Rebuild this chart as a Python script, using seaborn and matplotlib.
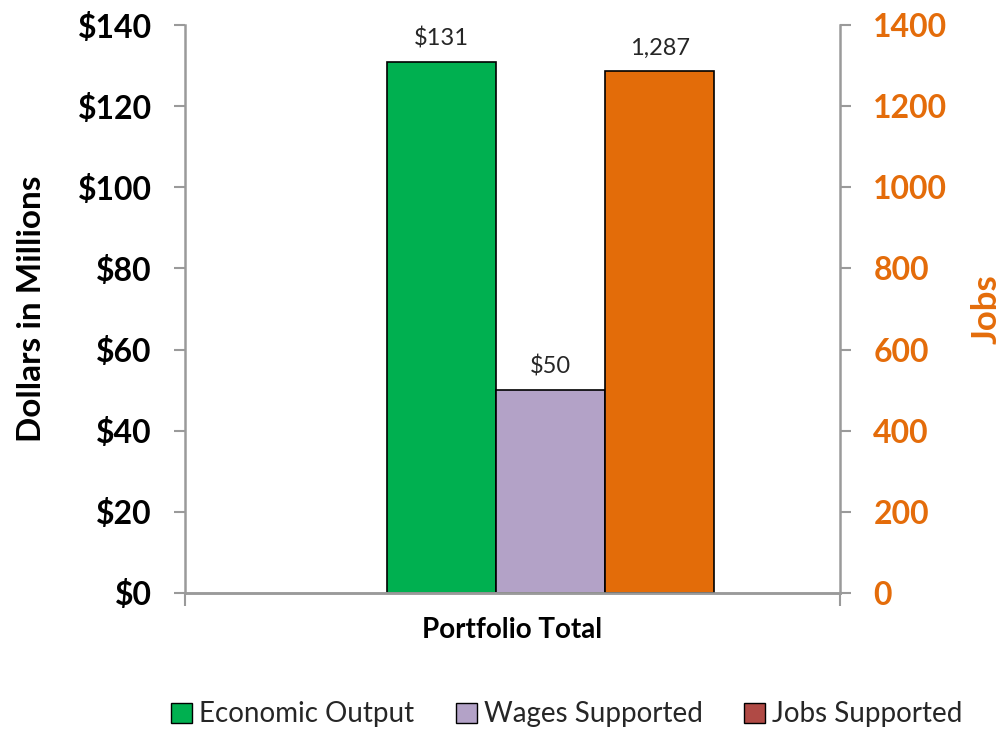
import matplotlib
matplotlib.use("Agg")
import matplotlib.pyplot as plt
from matplotlib.patches import Patch
from matplotlib.ticker import FuncFormatter, MultipleLocator
import seaborn as sns
import pandas as pd

# Data
categories = ["Portfolio Total"]
series = ["Economic Output", "Wages Supported", "Jobs Supported"]
dollar_values = [131, 50]          # $ millions (left axis)
job_values = [1287]                # jobs (right axis)
bar_colors = ["#00b050", "#b3a2c7", "#e36c09"]
legend_colors = ["#00b050", "#b3a2c7", "#b04a45"]

sns.set_theme(style="white")
plt.rcParams["font.family"] = ["Lato", "DejaVu Sans"]

gray = "#9a9a9a"
orange = "#e46c0a"

df_left = pd.DataFrame({"cat": categories * 2, "series": series[:2], "val": dollar_values})
df_right = pd.DataFrame({"cat": categories, "series": series[2:], "val": job_values})

fig = plt.figure(figsize=(10.03, 7.29), dpi=100)
ax = fig.add_axes([0.1844, 0.1866, 0.6531, 0.7791])
ax2 = ax.twinx()

pal = dict(zip(series, bar_colors))
sns.barplot(data=df_left, x="cat", y="val", hue="series", hue_order=series, dodge=True,
            palette=pal, width=0.5, saturation=1, edgecolor="black", linewidth=1.2,
            ax=ax, legend=False)
sns.barplot(data=df_right, x="cat", y="val", hue="series", hue_order=series, dodge=True,
            palette=pal, width=0.5, saturation=1, edgecolor="black", linewidth=1.2,
            ax=ax2, legend=False)

ax.set_ylim(0, 140)
ax2.set_ylim(0, 1400)
ax.set_xlim(-0.558, 0.442)

# Value labels
for c in ax.containers:
    ax.bar_label(c, labels=[f"${v:.0f}" for v in c.datavalues], padding=9, fontsize=17)
for c in ax2.containers:
    ax2.bar_label(c, labels=[f"{v:,.0f}" for v in c.datavalues], padding=9, fontsize=17)

# Left axis
ax.yaxis.set_major_locator(MultipleLocator(20))
ax.yaxis.set_major_formatter(FuncFormatter(lambda v, p: f"${v:.0f}"))
ax.tick_params(axis="y", which="major", left=True, direction="out", length=8, width=1.5,
               color=gray, labelsize=23, labelcolor="black", pad=16)
for t in ax.get_yticklabels():
    t.set_fontweight("bold")
ax.set_ylabel("Dollars in Millions", fontsize=24, fontweight="bold", color="black")
ax.yaxis.set_label_coords(-0.212, 0.5)

# Right axis
ax2.yaxis.set_major_locator(MultipleLocator(200))
ax2.tick_params(axis="y", which="major", right=True, direction="out", length=8, width=1.5,
                color=gray, labelsize=23, labelcolor=orange, pad=16)
for t in ax2.get_yticklabels():
    t.set_fontweight("bold")
ax2.set_ylabel("Jobs", fontsize=25, fontweight="bold", color=orange)
ax2.yaxis.set_label_coords(1.2, 0.5)

# Category axis: ticks at the category boundaries
ax.set_xticks([])
ax.set_xticks(list(ax.get_xlim()), minor=True)
ax.tick_params(axis="x", which="minor", bottom=True, direction="out", length=9, width=1.5,
               color=gray, labelbottom=False)
ax.set_xlabel("Portfolio Total", fontsize=20, fontweight="bold", color="black")
ax.xaxis.set_label_coords(0.5, -0.042, transform=ax.transAxes)
ax.xaxis.label.set_verticalalignment("top")

for a in (ax, ax2):
    a.spines["top"].set_visible(False)
    for s in ("left", "right", "bottom"):
        a.spines[s].set_color(gray)
        a.spines[s].set_linewidth(1.8)
    a.grid(False)
ax.spines["right"].set_visible(False)
ax2.spines["left"].set_visible(False)

handles = [Patch(facecolor=c, edgecolor="black", linewidth=1) for c in legend_colors]
fig.legend(handles, series, loc="center", bbox_to_anchor=(0.565, 0.02), ncol=3,
           frameon=False, fontsize=20, handlelength=0.75, handleheight=0.75,
           handletextpad=0.25, columnspacing=1.5, borderpad=0)

fig.savefig("out.png", dpi=100)
